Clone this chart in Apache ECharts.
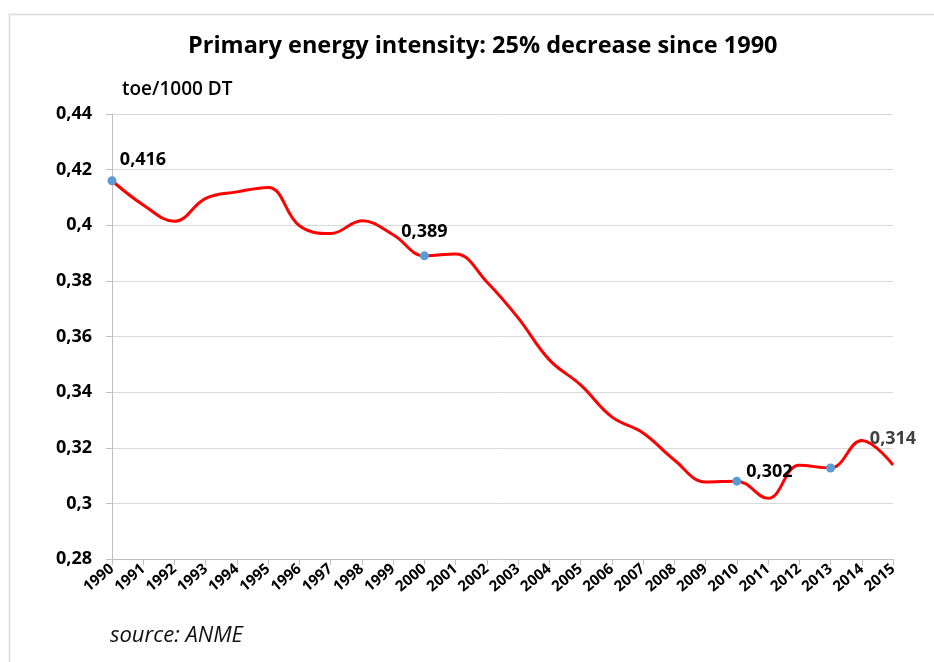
<!DOCTYPE html>
<html>
<head>
<meta charset="utf-8">
<script src="https://cdn.jsdelivr.net/npm/echarts@6/dist/echarts.min.js"></script>
<style>
  html, body { margin: 0; padding: 0; background: #fff; }
  #chart { width: 934px; height: 662px; }
</style>
</head>
<body>
<div id="chart"></div>
<script>
// years on the x axis
const years = ['1990', '1991', '1992', '1993', '1994', '1995', '1996', '1997', '1998', '1999',
  '2000', '2001', '2002', '2003', '2004', '2005', '2006', '2007', '2008', '2009',
  '2010', '2011', '2012', '2013', '2014', '2015'];

// primary energy intensity, toe/1000 DT
const intensity = [0.416, 0.4073, 0.4014, 0.4097, 0.4120, 0.4136, 0.3998, 0.3970, 0.4016, 0.3966,
  0.389, 0.3897, 0.3796, 0.3667, 0.3516, 0.3426, 0.3311, 0.3253, 0.3156, 0.3077,
  0.308, 0.3018, 0.3137, 0.3127, 0.3226, 0.3138];

// points that carry a blue marker
const markedYears = ['1990', '2000', '2010', '2013'];

// data label texts as printed on the chart
const labelTexts = { '1990': '0,416', '2000': '0,389', '2010': '0,302', '2015': '0,314' };

const yTicks = { min: 0.28, max: 0.44, step: 0.02 };

const labelStyle = {
  '1990': { position: 'top', offset: [31, -2], color: '#000' },
  '2000': { position: 'top', offset: [0, -5], color: '#000' },
  '2010': { position: 'right', offset: [0, -9], color: '#000' },
  '2015': { position: 'top', offset: [0, -12], color: '#404040' }
};

const chart = echarts.init(document.getElementById('chart'));

const lineData = intensity.map((v, i) => {
  const y = years[i];
  const item = {
    value: v,
    symbolSize: markedYears.includes(y) ? 9 : 0
  };
  if (labelTexts[y]) {
    item.label = Object.assign({ show: true, formatter: labelTexts[y] }, labelStyle[y]);
  }
  return item;
});

const fmt = v => String(+v.toFixed(2)).replace('.', ',');

chart.setOption({
  animation: false,
  textStyle: { fontFamily: 'Open Sans' },
  title: {
    text: 'Primary energy intensity: 25% decrease since 1990',
    left: 183,
    top: 29,
    textStyle: { fontSize: 23.5, fontWeight: 'bold', color: '#000', fontFamily: 'Open Sans' }
  },
  graphic: [
    {
      type: 'rect',
      left: 7, top: 12,
      shape: { width: 960, height: 700 },
      style: { fill: 'none', stroke: '#d9d9d9', lineWidth: 1.5 },
      silent: true
    },
    {
      type: 'text',
      left: 110, top: 625,
      style: { text: 'source: ANME', font: 'italic 22px "Open Sans"', fill: '#111' }
    }
  ],
  grid: { left: 112, right: 41, top: 114, bottom: 103, containLabel: false },
  xAxis: {
    type: 'category',
    data: years,
    boundaryGap: false,
    axisLine: { lineStyle: { color: '#bfbfbf', width: 1 } },
    axisTick: { show: true, length: 6, lineStyle: { color: '#bfbfbf' }, alignWithLabel: true },
    axisLabel: {
      rotate: 40, interval: 0, margin: 8,
      fontSize: 15, fontWeight: 'bold', color: '#000'
    },
    splitLine: { show: false }
  },
  yAxis: {
    type: 'value',
    min: yTicks.min, max: yTicks.max, interval: yTicks.step,
    name: 'toe/1000 DT',
    nameLocation: 'end',
    nameGap: 15,
    nameTextStyle: { align: 'left', padding: [0, 0, 0, 10], fontSize: 19, fontWeight: 600, color: '#000' },
    axisLine: { show: true, lineStyle: { color: '#bfbfbf' } },
    axisTick: { show: true, length: 6, lineStyle: { color: '#bfbfbf' } },
    axisLabel: {
      formatter: fmt, margin: 20,
      fontSize: 18, fontWeight: 'bold', color: '#000'
    },
    splitLine: { lineStyle: { color: '#d9d9d9', width: 1 } }
  },
  series: [{
    type: 'line',
    data: lineData,
    smooth: 0.4,
    symbol: 'circle',
    showAllSymbol: true,
    lineStyle: { color: '#ff0000', width: 3 },
    itemStyle: { color: '#5b9bd5', borderWidth: 0 },
    label: { fontSize: 18, fontWeight: 'bold', fontFamily: 'Open Sans' },
    emphasis: { disabled: true },
    z: 3
  }]
});
</script>
</body>
</html>
